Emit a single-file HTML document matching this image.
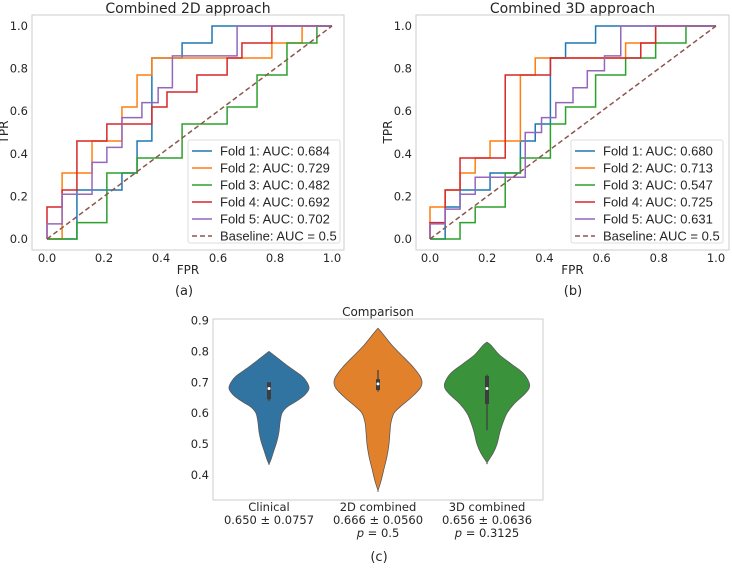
<!DOCTYPE html>
<html><head><meta charset="utf-8">
<style>
body{margin:0;background:#fff;width:732px;height:564px;overflow:hidden;font-family:"Liberation Sans","DejaVu Sans",sans-serif;}
svg text{font-family:"DejaVu Sans","Liberation Sans",sans-serif;fill:#262626;}
svg text.lg{font-family:"Liberation Sans","DejaVu Sans",sans-serif;}
</style></head>
<body>
<svg id="fig" width="732" height="564" viewBox="0 0 732 564" xmlns="http://www.w3.org/2000/svg">
<rect width="732" height="564" fill="#fff"/>
<g id="roc2d"></g>
<g id="roc3d"></g>
<g id="violin"></g>
<text x="184" y="295" font-size="13" text-anchor="middle">(a)</text>
<text x="573" y="295" font-size="13" text-anchor="middle">(b)</text>
<text x="379" y="561" font-size="13" text-anchor="middle">(c)</text>
</svg>
<script>
const NS="http://www.w3.org/2000/svg";
const foldColors=["#1f77b4","#ff7f0e","#2ca02c","#d62728","#9467bd"];
// 2D folds: step breakpoints (fpr) and tpr after each step
const fpr2d_1=[0.105,0.263,0.316,0.368,0.368,0.474,0.579];
const tpr2d_1=[0.23,0.31,0.46,0.77,0.85,0.92,1.0];
const fpr2d_2=[0.053,0.158,0.263,0.316,0.368,0.789,0.895];
const tpr2d_2=[0.31,0.46,0.62,0.77,0.85,0.92,1.0];
const fpr2d_3=[0.105,0.21,0.316,0.474,0.632,0.737,0.842,0.947];
const tpr2d_3=[0.077,0.31,0.38,0.54,0.62,0.77,0.92,1.0];
const fpr2d_4=[0,0.053,0.105,0.21,0.368,0.421,0.526,0.632,0.684,0.789];
const tpr2d_4=[0.15,0.23,0.46,0.54,0.62,0.69,0.77,0.85,0.92,1.0];
const fpr2d_5=[0,0.053,0.158,0.21,0.263,0.333,0.39,0.44,0.667];
const tpr2d_5=[0.071,0.21,0.36,0.43,0.57,0.64,0.71,0.86,1.0];
const auc2d=["0.684","0.729","0.482","0.692","0.702"];
// 3D folds
const fpr3d_1=[0.053,0.105,0.21,0.316,0.368,0.421,0.474,0.579];
const tpr3d_1=[0.15,0.23,0.31,0.46,0.54,0.85,0.92,1.0];
const fpr3d_2=[0,0.053,0.105,0.158,0.21,0.316,0.368,0.684,0.789];
const tpr3d_2=[0.15,0.23,0.31,0.38,0.46,0.77,0.85,0.92,1.0];
const fpr3d_3=[0.105,0.158,0.263,0.316,0.421,0.474,0.579,0.684,0.789,0.895];
const tpr3d_3=[0.077,0.15,0.31,0.38,0.54,0.62,0.77,0.85,0.92,1.0];
const fpr3d_4=[0,0.053,0.105,0.263,0.421,0.737,0.789];
const tpr3d_4=[0.077,0.23,0.38,0.77,0.85,0.92,1.0];
const fpr3d_5=[0,0.053,0.105,0.158,0.333,0.39,0.44,0.5,0.55,0.61,0.667];
const tpr3d_5=[0.071,0.14,0.21,0.29,0.5,0.57,0.64,0.71,0.79,0.86,1.0];
const auc3d=["0.680","0.713","0.547","0.725","0.631"];
const rocTicks=[0,0.2,0.4,0.6,0.8,1.0];
const rocTickLabels=["0.0","0.2","0.4","0.6","0.8","1.0"];
// violin data
const violinCats=["Clinical","2D combined","3D combined"];
const violinStats=["0.650 ± 0.0757","0.666 ± 0.0560","0.656 ± 0.0636"];
const violinP=["","p = 0.5","p = 0.3125"];
const vY_clin=[0.80,0.78,0.75,0.72,0.70,0.68,0.66,0.64,0.62,0.60,0.57,0.54,0.51,0.48,0.45,0.435];
const vW_clin=[0,8,20,33,38,40,36,28,18,13,11,10,8,5,2,0];
const vY_2d=[0.875,0.86,0.82,0.78,0.75,0.72,0.70,0.68,0.65,0.62,0.60,0.57,0.54,0.50,0.46,0.42,0.38,0.35];
const vW_2d=[0,4,14,26,35,42,44,42,33,22,16,13,12,11,9,6,3,0];
const vY_3d=[0.83,0.82,0.79,0.76,0.73,0.70,0.68,0.66,0.63,0.60,0.57,0.54,0.50,0.47,0.44];
const vW_3d=[0,4,12,24,36,42,42,37,27,20,16,13,10,6,0];
const vQ1=[0.645,0.675,0.63];
const vQ3=[0.70,0.71,0.72];
const vWlo=[0.64,0.67,0.545];
const vWhi=[0.70,0.74,0.725];
const vMed=[0.68,0.695,0.68];
const violinTicks=[0.4,0.5,0.6,0.7,0.8,0.9];

function el(p,tag,attrs,txt){const e=document.createElementNS(NS,tag);for(const k in attrs)e.setAttribute(k,attrs[k]);if(txt!==undefined)e.textContent=txt;p.appendChild(e);return e;}

function roc(g,title,frame,x0,x1,folds,aucs,leg){
  const sx=v=>x0+(x1-x0)*v, sy=v=>239-(239-26)*v;
  const t=el(g,'text',{x:(frame[0]+frame[1])/2,y:13,'font-size':14,'text-anchor':'middle'},title);
  
  const fr=el(g,'rect',{x:frame[0],y:15,width:frame[1]-frame[0],height:235,fill:'none',stroke:'#ccc','stroke-width':1});
  
  rocTicks.forEach((v,i)=>{
    const a=el(g,'text',{x:sx(v),y:262,'font-size':11.5,'text-anchor':'middle'},rocTickLabels[i]);
    
    const b=el(g,'text',{x:frame[0]-4,y:sy(v)+4,'font-size':11.5,'text-anchor':'end'},rocTickLabels[i]);
    
  });
  const xl=el(g,'text',{x:(frame[0]+frame[1])/2,y:274,'font-size':12,'text-anchor':'middle'},'FPR');
  
  const yl=el(g,'text',{x:0,y:0,'font-size':12,'text-anchor':'middle',transform:`translate(${frame[0]-24},132) rotate(-90)`},'TPR');
  
  folds.forEach((f,i)=>{
    let d=`M${sx(0)},${sy(0)}`,prev=0;
    f[0].forEach((x,j)=>{d+=` L${sx(x)},${sy(prev)} L${sx(x)},${sy(f[1][j])}`;prev=f[1][j];});
    d+=` L${sx(1)},${sy(prev)}`;
    const p=el(g,'path',{d:d,fill:'none',stroke:foldColors[i],'stroke-width':1.5});
    
  });
  const bl=el(g,'line',{x1:sx(0),y1:sy(0),x2:sx(1),y2:sy(1),stroke:'#8c564b','stroke-width':1.5,'stroke-dasharray':'5,3'});
  
  const lg=el(g,'g',{});
  
  el(lg,'rect',{x:leg,y:140,width:152,height:103,fill:'#fff','fill-opacity':0.85,stroke:'#ddd',rx:2});
  const labels=aucs.map((a,i)=>`Fold ${i+1}: AUC: ${a}`).concat(['Baseline: AUC = 0.5']);
  labels.forEach((s,i)=>{
    const y=151+17*i;
    const ln=el(lg,'line',{x1:leg+4,y1:y,x2:leg+24,y2:y,stroke:i<5?foldColors[i]:'#8c564b','stroke-width':1.5});
    if(i==5)ln.setAttribute('stroke-dasharray','5,3');
    const tx=el(lg,'text',{x:leg+32,y:y+4.5,'font-size':13,'class':'lg'},s);
    
  });
}
roc(document.getElementById('roc2d'),'Combined 2D approach',[32,344],47,332,
  [[fpr2d_1,tpr2d_1],[fpr2d_2,tpr2d_2],[fpr2d_3,tpr2d_3],[fpr2d_4,tpr2d_4],[fpr2d_5,tpr2d_5]],auc2d,188);
roc(document.getElementById('roc3d'),'Combined 3D approach',[416,729],430,716,
  [[fpr3d_1,tpr3d_1],[fpr3d_2,tpr3d_2],[fpr3d_3,tpr3d_3],[fpr3d_4,tpr3d_4],[fpr3d_5,tpr3d_5]],auc3d,571);

(function(){
  const g=document.getElementById('violin');
  const Y=v=>475-(v-0.4)*309;
  const cx=[269,378,487];
  const vcol=["#3274a1","#e1812c","#3a923a"];
  const tt=el(g,'text',{x:378,y:316,'font-size':12,'text-anchor':'middle'},'Comparison');
  
  const fr=el(g,'rect',{x:213,y:319,width:330,height:181,fill:'none',stroke:'#ccc'});
  
  violinTicks.forEach(v=>{
    const t=el(g,'text',{x:209,y:Y(v)+4,'font-size':11.5,'text-anchor':'end'},v.toFixed(1));
    
  });
  const prof=[[vY_clin,vW_clin],[vY_2d,vW_2d],[vY_3d,vW_3d]];
  prof.forEach((p,i)=>{
    const ys=p[0],ws=p[1];
    let pts=ys.map((y,j)=>[cx[i]+ws[j],Y(y)]);
    let pts2=ys.map((y,j)=>[cx[i]-ws[j],Y(y)]).reverse();
    const all=pts.concat(pts2);
    let d='M'+all[0].join(',');
    for(let k=1;k<all.length;k++){
      const p0=all[k-2]||all[k-1],p1=all[k-1],p2=all[k],p3=all[k+1]||all[k];
      const c1=[p1[0]+(p2[0]-p0[0])/6,p1[1]+(p2[1]-p0[1])/6],c2=[p2[0]-(p3[0]-p1[0])/6,p2[1]-(p3[1]-p1[1])/6];
      d+=` C${c1[0]},${c1[1]} ${c2[0]},${c2[1]} ${p2[0]},${p2[1]}`;
    }
    d+='Z';
    const v=el(g,'path',{d:d,fill:vcol[i],stroke:'#5a5a5a','stroke-width':0.8});
    
    el(g,'line',{x1:cx[i],y1:Y(vWlo[i]),x2:cx[i],y2:Y(vWhi[i]),stroke:'#3d3d3d','stroke-width':1.2});
    el(g,'rect',{x:cx[i]-2,y:Y(vQ3[i]),width:4,height:Y(vQ1[i])-Y(vQ3[i]),fill:'#3d3d3d'});
    el(g,'circle',{cx:cx[i],cy:Y(vMed[i]),r:1.5,fill:'#fff'});
    const l1=el(g,'text',{x:cx[i],y:511,'font-size':11.5,'text-anchor':'middle'},violinCats[i]);
    
    el(g,'text',{x:cx[i],y:524,'font-size':11.5,'text-anchor':'middle'},violinStats[i]);
    if(violinP[i]){
      const pt=el(g,'text',{x:cx[i],y:537,'font-size':11.5,'text-anchor':'middle'});
      el(pt,'tspan',{'font-style':'italic'},'p');
      el(pt,'tspan',{},violinP[i].slice(1));
    }
  });
})();
</script>
</body></html>
